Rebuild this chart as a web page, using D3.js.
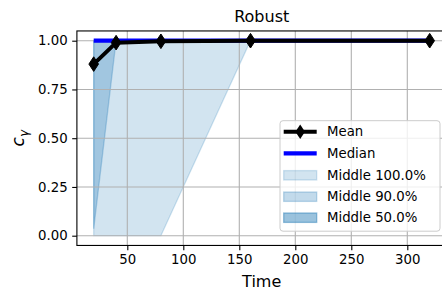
<!DOCTYPE html>
<html><head><meta charset="utf-8">
<script src="https://cdn.jsdelivr.net/npm/d3@7"></script>
<style>body{margin:0;background:#fff}svg{display:block;font-family:"DejaVu Sans",sans-serif}</style>
</head><body>
<script>
const times = [20, 40, 80, 160, 320];
const meanVals = [0.88, 0.99, 0.997, 1.0, 1.0];
const medianVals = [1, 1, 1, 1, 1];
const lo100 = [0, 0, 0, 1, 1];
const hi100 = [1, 1, 1, 1, 1];
const lo90 = [0.036, 1, 1, 1, 1];
const hi90 = [1, 1, 1, 1, 1];
const lo50 = [1, 1, 1, 1, 1];
const hi50 = [1, 1, 1, 1, 1];
const xTicks = [50, 100, 150, 200, 250, 300];
const yTicks = [0, 0.25, 0.5, 0.75, 1.0];
const bands = [
  {label: "Middle 100.0%", lo: lo100, hi: hi100, alpha: 0.2},
  {label: "Middle 90.0%", lo: lo90, hi: hi90, alpha: 0.27},
  {label: "Middle 50.0%", lo: lo50, hi: hi50, alpha: 0.45}
];
const W = 442, H = 292;
const L = 76.9, R = 446.5, T = 30.95, B = 245.45;
const x = d3.scaleLinear().domain([5, 335]).range([L, R]);
const y = d3.scaleLinear().domain([-0.05, 1.05]).range([B, T]);
const C0 = "#1f77b4";

const svg = d3.select("body").append("svg").attr("width", W).attr("height", H);
svg.append("defs").append("clipPath").attr("id", "clip")
  .append("rect").attr("x", L).attr("y", T).attr("width", R - L).attr("height", B - T);

const plot = svg.append("g").attr("clip-path", "url(#clip)");

// bands
const area = d3.area().x((d, i) => x(times[i])).y0(d => y(d[0])).y1(d => y(d[1]));
bands.forEach(b => {
  const data = times.map((t, i) => [b.lo[i], b.hi[i]]);
  plot.append("path").attr("d", area(data))
    .attr("fill", C0).attr("fill-opacity", b.alpha)
    .attr("stroke", C0).attr("stroke-opacity", b.alpha).attr("stroke-width", 1.33);
});

// grid
plot.selectAll(".gx").data(xTicks).enter().append("line")
  .attr("x1", d => x(d)).attr("x2", d => x(d)).attr("y1", T).attr("y2", B)
  .attr("stroke", "#b0b0b0").attr("stroke-width", 1.1);
plot.selectAll(".gy").data(yTicks).enter().append("line")
  .attr("y1", d => y(d)).attr("y2", d => y(d)).attr("x1", L).attr("x2", R)
  .attr("stroke", "#b0b0b0").attr("stroke-width", 1.1);

// median
const line = d3.line().x((d, i) => x(times[i])).y(d => y(d));
plot.append("path").attr("d", line(medianVals)).attr("fill", "none")
  .attr("stroke", "#0000ff").attr("stroke-width", 4.2);
// mean
plot.append("path").attr("d", line(meanVals)).attr("fill", "none")
  .attr("stroke", "#000").attr("stroke-width", 4).attr("stroke-linejoin", "round");
const diamond = (cx, cy) => `M${cx},${cy-7.3} L${cx+4.8},${cy} L${cx},${cy+7.3} L${cx-4.8},${cy} Z`;
plot.selectAll(".mk").data(meanVals).enter().append("path")
  .attr("d", (d, i) => diamond(x(times[i]), y(d))).attr("fill", "#000").attr("stroke", "#000").attr("stroke-width", 1);

// axes
const xAxis = svg.append("g").attr("transform", `translate(0,${B})`)
  .call(d3.axisBottom(x).tickValues(xTicks).tickSize(4.7).tickPadding(4).tickFormat(d3.format("d")));
const yAxis = svg.append("g").attr("transform", `translate(${L},0)`)
  .call(d3.axisLeft(y).tickValues(yTicks).tickSize(4.7).tickPadding(4.5).tickFormat(d3.format(".2f")));
[xAxis, yAxis].forEach(a => {
  a.select(".domain").remove();
  a.selectAll("line").attr("stroke", "#000").attr("stroke-width", 1.1);
  a.selectAll("text").attr("fill", "#000").style("font-size", "13.3px").style("font-family", "DejaVu Sans");
});
// spines
svg.append("rect").attr("x", L).attr("y", T).attr("width", R - L).attr("height", B - T)
  .attr("fill", "none").attr("stroke", "#000").attr("stroke-width", 1.1);

// title and labels
svg.append("text").attr("x", (L + R) / 2).attr("y", 22).attr("text-anchor", "middle")
  .style("font-size", "16px").text("Robust");
svg.append("text").attr("x", (L + R) / 2).attr("y", 287).attr("text-anchor", "middle")
  .style("font-size", "16px").text("Time");
const yl = svg.append("text").attr("transform", `translate(24,${(T + B) / 2}) rotate(-90)`)
  .attr("text-anchor", "middle").style("font-size", "17px").style("font-style", "italic");
yl.append("tspan").text("c");
yl.append("tspan").attr("dy", 4).style("font-size", "12px").text("γ");

// legend
const lg = svg.append("g");
lg.append("rect").attr("x", 280).attr("y", 120.7).attr("width", 160).attr("height", 110.5)
  .attr("rx", 3).attr("fill", "#fff").attr("fill-opacity", 0.8).attr("stroke", "#cccccc").attr("stroke-width", 1);
const rows = [131.7, 153.3, 175.3, 196.7, 217.7];
const hx0 = 283.7, hx1 = 316.7, tx = 327;
lg.append("line").attr("x1", hx0).attr("x2", hx1).attr("y1", rows[0]).attr("y2", rows[0])
  .attr("stroke", "#000").attr("stroke-width", 4);
lg.append("path").attr("d", diamond((hx0 + hx1) / 2, rows[0])).attr("fill", "#000");
lg.append("line").attr("x1", hx0).attr("x2", hx1).attr("y1", rows[1]).attr("y2", rows[1])
  .attr("stroke", "#0000ff").attr("stroke-width", 4.2);
bands.forEach((b, i) => {
  lg.append("rect").attr("x", hx0).attr("y", rows[i + 2] - 4.7).attr("width", hx1 - hx0).attr("height", 9.4)
    .attr("fill", C0).attr("fill-opacity", b.alpha).attr("stroke", C0).attr("stroke-opacity", b.alpha).attr("stroke-width", 1.33);
});
const labels = ["Mean", "Median"].concat(bands.map(b => b.label));
labels.forEach((t, i) => {
  lg.append("text").attr("x", tx).attr("y", rows[i]).attr("dy", "0.36em")
    .style("font-size", "13.3px").text(t);
});
</script>
</body></html>
